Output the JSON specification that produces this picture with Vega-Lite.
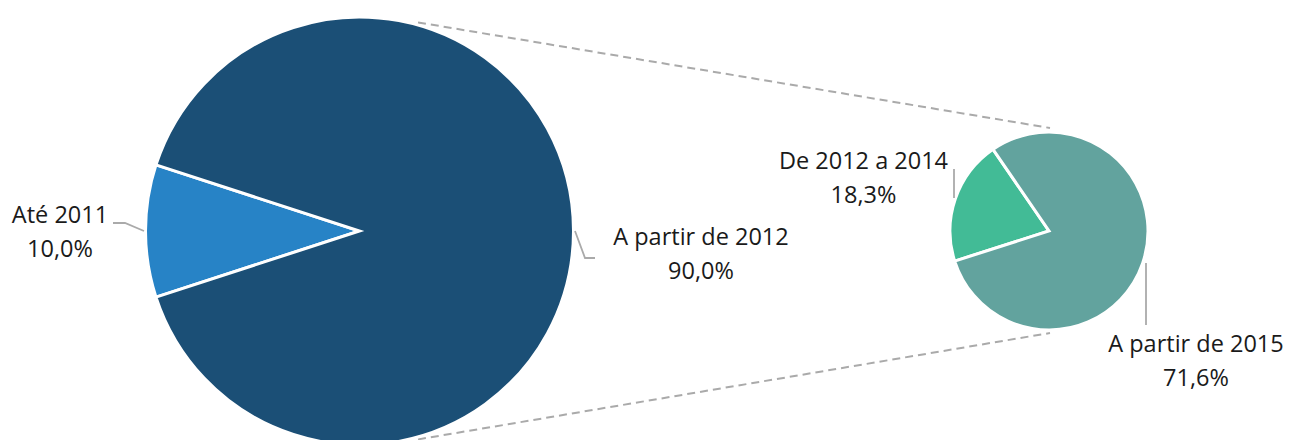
{
  "$schema": "https://vega.github.io/schema/vega-lite/v6.json",
  "width": 1290,
  "height": 440,
  "autosize": {"type": "none"},
  "padding": 0,
  "background": "#ffffff",
  "config": {"view": {"stroke": null}},
  "datasets": {
    "total": [
      {"categoria": "Até 2011", "valor": 10.0, "ordem": 1},
      {"categoria": "A partir de 2012", "valor": 90.0, "ordem": 2}
    ],
    "detalhe": [
      {"categoria": "De 2012 a 2014", "valor": 18.3, "ordem": 1},
      {"categoria": "A partir de 2015", "valor": 71.6, "ordem": 2}
    ],
    "conectores": [
      {"linha": "sup", "ordem": 1, "x": 418, "y": 22.4},
      {"linha": "sup", "ordem": 2, "x": 1050, "y": 128},
      {"linha": "inf", "ordem": 1, "x": 418, "y": 439.4},
      {"linha": "inf", "ordem": 2, "x": 1050, "y": 333}
    ],
    "guias": [
      {"linha": "a", "ordem": 1, "x": 113, "y": 223},
      {"linha": "a", "ordem": 2, "x": 125, "y": 223},
      {"linha": "a", "ordem": 3, "x": 144, "y": 231},
      {"linha": "b", "ordem": 1, "x": 575, "y": 231},
      {"linha": "b", "ordem": 2, "x": 585, "y": 258},
      {"linha": "b", "ordem": 3, "x": 595, "y": 258},
      {"linha": "c", "ordem": 1, "x": 954, "y": 169},
      {"linha": "c", "ordem": 2, "x": 954, "y": 198},
      {"linha": "d", "ordem": 1, "x": 1146, "y": 263},
      {"linha": "d", "ordem": 2, "x": 1146, "y": 325}
    ],
    "rotulos": [
      {"rotulo": "Até 2011\n10,0%", "x": 60, "y": 223},
      {"rotulo": "A partir de 2012\n90,0%", "x": 701, "y": 245},
      {"rotulo": "De 2012 a 2014\n18,3%", "x": 863.5, "y": 169},
      {"rotulo": "A partir de 2015\n71,6%", "x": 1196, "y": 352}
    ]
  },
  "resolve": {"scale": {"theta": "independent"}},
  "layer": [
    {
      "data": {"name": "conectores"},
      "mark": {"type": "line", "color": "#aaaaaa", "strokeWidth": 2, "strokeDash": [8, 5]},
      "encoding": {
        "x": {"field": "x", "type": "quantitative", "scale": {"domain": [0, 1290], "nice": false, "zero": false}, "axis": null},
        "y": {"field": "y", "type": "quantitative", "scale": {"domain": [0, 440], "nice": false, "zero": false, "reverse": true}, "axis": null},
        "detail": {"field": "linha"},
        "order": {"field": "ordem"}
      }
    },
    {
      "data": {"name": "total"},
      "mark": {"type": "arc", "outerRadius": 214, "stroke": "#ffffff", "strokeWidth": 3},
      "encoding": {
        "x": {"datum": 359.5, "type": "quantitative"},
        "y": {"datum": 231, "type": "quantitative"},
        "theta": {"field": "valor", "type": "quantitative", "stack": true, "scale": {"range": [4.39823, 10.68142]}},
        "order": {"field": "ordem"},
        "color": {"field": "categoria", "type": "nominal", "legend": null,
          "scale": {"domain": ["Até 2011", "A partir de 2012", "De 2012 a 2014", "A partir de 2015"],
                    "range": ["#2783c6", "#1b4f76", "#42bb96", "#62a39e"]}}
      }
    },
    {
      "data": {"name": "detalhe"},
      "mark": {"type": "arc", "outerRadius": 99, "stroke": "#ffffff", "strokeWidth": 3},
      "encoding": {
        "x": {"datum": 1049, "type": "quantitative"},
        "y": {"datum": 231, "type": "quantitative"},
        "theta": {"field": "valor", "type": "quantitative", "stack": true, "scale": {"range": [4.40347, 10.68666]}},
        "order": {"field": "ordem"},
        "color": {"field": "categoria", "type": "nominal", "legend": null}
      }
    },
    {
      "data": {"name": "guias"},
      "mark": {"type": "line", "color": "#aaaaaa", "strokeWidth": 1.8},
      "encoding": {
        "x": {"field": "x", "type": "quantitative"},
        "y": {"field": "y", "type": "quantitative"},
        "detail": {"field": "linha"},
        "order": {"field": "ordem"}
      }
    },
    {
      "data": {"name": "rotulos"},
      "mark": {"type": "text", "font": "Open Sans", "fontSize": 23.5, "color": "#1a1a1a", "align": "center", "baseline": "alphabetic", "lineBreak": "\n", "lineHeight": 34},
      "encoding": {
        "x": {"field": "x", "type": "quantitative"},
        "y": {"field": "y", "type": "quantitative"},
        "text": {"field": "rotulo"}
      }
    }
  ]
}
